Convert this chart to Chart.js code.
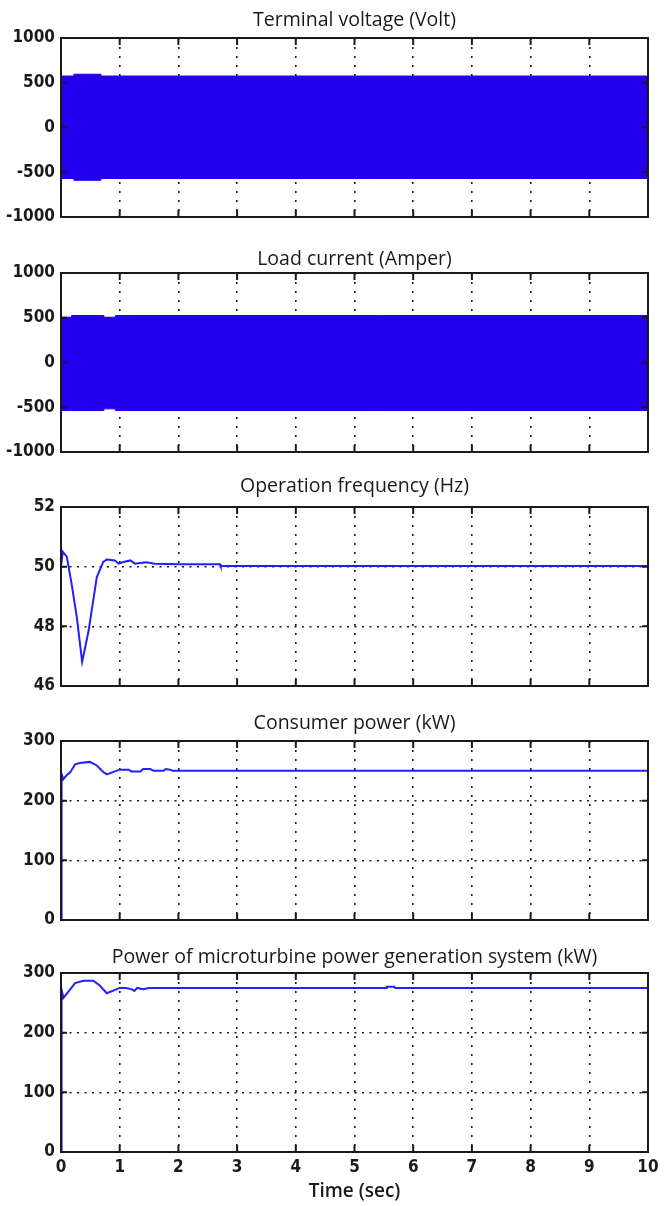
<!DOCTYPE html>
<html>
<head>
<meta charset="utf-8">
<script src="https://cdn.jsdelivr.net/npm/chart.js@4.4.0/dist/chart.umd.min.js"></script>
<style>
  body { margin: 0; background: #fff; }
  #wrap { position: relative; width: 672px; height: 1206px; overflow: hidden; }
  #wrap canvas { position: absolute; left: 0; }
</style>
</head>
<body>
<div id="wrap">
  <canvas id="c-volt"></canvas>
  <canvas id="c-curr"></canvas>
  <canvas id="c-freq"></canvas>
  <canvas id="c-load"></canvas>
  <canvas id="c-mt"></canvas>
</div>
<script>
// time axis (sec)
const timeTicks = [0, 1, 2, 3, 4, 5, 6, 7, 8, 9, 10];

// terminal voltage envelope (Volt), held until next time
const voltTime = [0, 0.22, 0.68, 10];
const voltUpper = [575, 595, 575, 575];
const voltLower = [-570, -590, -570, -570];
const voltTicks = [-1000, -500, 0, 500, 1000];

// load current envelope (Amper)
const currTime = [0, 0.18, 0.73, 0.93, 10];
const currUpper = [506, 525, 506, 525, 525];
const currLower = [-537, -537, -518, -537, -537];
const currTicks = [-1000, -500, 0, 500, 1000];

// operation frequency (Hz)
const freqTime = [0, 0.03, 0.1, 0.18, 0.27, 0.36, 0.47, 0.61, 0.72, 0.78, 0.92, 0.98, 1.05, 1.18, 1.26, 1.45, 1.6, 2.0, 2.4, 2.71, 2.72, 10];
const freqHz = [50.0, 50.5, 50.33, 49.43, 48.3, 46.81, 47.85, 49.65, 50.16, 50.24, 50.21, 50.1, 50.15, 50.21, 50.1, 50.15, 50.1, 50.08, 50.08, 50.08, 50.02, 50.02];
const freqTicks = [46, 48, 50, 52];

// consumer power (kW)
const loadTime = [0, 0.01, 0.04, 0.1, 0.16, 0.24, 0.32, 0.49, 0.61, 0.72, 0.78, 0.92, 1.0, 1.15, 1.2, 1.35, 1.4, 1.52, 1.58, 1.75, 1.78, 1.86, 1.9, 10];
const loadKw = [0, 245, 236, 243, 248, 261, 263, 265, 259, 248, 244, 249, 252, 252, 249, 249, 253, 253, 250, 250, 253, 252, 250, 250];
const powerTicks = [0, 100, 200, 300];

// microturbine generation power (kW)
const mtTime = [0, 0.01, 0.04, 0.12, 0.24, 0.38, 0.55, 0.66, 0.78, 0.9, 1.0, 1.1, 1.2, 1.25, 1.3, 1.4, 1.5, 2.0, 5.54, 5.55, 5.68, 5.69, 10];
const mtKw = [0, 272, 258, 268, 283, 287, 287, 279, 266, 271, 275, 275, 273, 270, 275, 273, 275, 275, 275, 277, 277, 275, 275];

const BLUE = '#1f1fff';
const BAND = 'rgb(34,0,238)';
const INK = '#1a1a1a';
const tickFont = { family: "'Liberation Sans Narrow', 'DejaVu Sans Condensed', 'Liberation Sans', sans-serif", size: 17, weight: 'condensed bold' };
const titleFont = { family: "'Open Sans', sans-serif", size: 19.5, weight: 'normal' };

const pts = (xs, ys) => xs.map((x, i) => ({ x, y: ys[i] }));

// plot box and inward tick marks, matlab style
const framePlugin = {
  id: 'frame',
  afterDraw(chart) {
    const { ctx, chartArea: a, scales: { x, y } } = chart;
    ctx.save();
    ctx.strokeStyle = INK;
    ctx.lineWidth = 2;
    ctx.beginPath();
    x.ticks.forEach(t => {
      const px = x.getPixelForValue(t.value);
      ctx.moveTo(px, a.bottom); ctx.lineTo(px, a.bottom - 7);
      ctx.moveTo(px, a.top); ctx.lineTo(px, a.top + 7);
    });
    y.ticks.forEach(t => {
      const py = y.getPixelForValue(t.value);
      ctx.moveTo(a.left, py); ctx.lineTo(a.left + 6, py);
      ctx.moveTo(a.right, py); ctx.lineTo(a.right - 6, py);
    });
    ctx.stroke();
    ctx.strokeRect(a.left, a.top, a.right - a.left, a.bottom - a.top);
    ctx.restore();
  }
};

function makePanel(id, p) {
  const canvas = document.getElementById(id);
  canvas.width = 672;
  canvas.height = p.height;
  canvas.style.top = p.top + 'px';
  const last = !!p.last;
  const lh = titleFont.size * 1.2;
  return new Chart(canvas, {
    type: 'line',
    data: { datasets: p.datasets },
    options: {
      responsive: false,
      animation: false,
      devicePixelRatio: 1,
      layout: { padding: { left: 0, right: 24, top: 0, bottom: 0 } },
      plugins: {
        legend: { display: false },
        tooltip: { enabled: false },
        title: {
          display: true,
          text: p.title,
          fullSize: false,
          color: INK,
          font: titleFont,
          padding: { top: p.titleTop, bottom: 38 - lh - p.titleTop }
        }
      },
      scales: {
        x: {
          type: 'linear',
          min: 0, max: 10,
          afterBuildTicks: s => { s.ticks = timeTicks.map(v => ({ value: v })); },
          afterFit: s => { s.height = last ? 54 : 18; },
          grid: { color: INK, lineWidth: 1.6, drawTicks: false },
          border: { display: true, color: INK, width: 2, dash: [2, 7] },
          ticks: { display: last, color: INK, font: tickFont, padding: 5, maxRotation: 0, callback: v => String(v) },
          title: {
            display: last,
            text: 'Time (sec)',
            color: INK,
            font: { family: "'Open Sans', sans-serif", size: 19, weight: '600' },
            padding: { top: 0, bottom: 3 }
          }
        },
        y: {
          min: p.ticks[0], max: p.ticks[p.ticks.length - 1],
          afterBuildTicks: s => { s.ticks = p.ticks.map(v => ({ value: v })); },
          afterFit: s => { s.width = 61; },
          grid: { color: INK, lineWidth: 1.6, drawTicks: false },
          border: { display: true, color: INK, width: 2, dash: [2, 5.5] },
          ticks: { color: INK, font: tickFont, padding: 6, callback: v => String(v) }
        }
      }
    },
    plugins: [framePlugin]
  });
}

// filled envelope between upper and lower edges
function band(xs, upper, lower) {
  const base = { stepped: true, borderColor: BAND, backgroundColor: BAND, borderWidth: 1, pointRadius: 0 };
  return [
    { ...base, data: pts(xs, upper), fill: '+1' },
    { ...base, data: pts(xs, lower), fill: false }
  ];
}

function trace(xs, ys) {
  return {
    data: pts(xs, ys),
    borderColor: BLUE,
    borderWidth: 2,
    pointRadius: 0,
    tension: 0,
    fill: false
  };
}

makePanel('c-volt', {
  top: 0, height: 235, titleTop: 8.9, title: 'Terminal voltage (Volt)', ticks: voltTicks,
  datasets: band(voltTime, voltUpper, voltLower)
});
makePanel('c-curr', {
  top: 235, height: 235, titleTop: 12.8, title: 'Load current (Amper)', ticks: currTicks,
  datasets: band(currTime, currUpper, currLower)
});
makePanel('c-freq', {
  top: 469, height: 235, titleTop: 5.5, title: 'Operation frequency (Hz)', ticks: freqTicks,
  datasets: [trace(freqTime, freqHz)]
});
makePanel('c-load', {
  top: 703, height: 235, titleTop: 9.1, title: 'Consumer power (kW)', ticks: powerTicks,
  datasets: [trace(loadTime, loadKw)]
});
makePanel('c-mt', {
  top: 935, height: 271, titleTop: 10.5, title: 'Power of microturbine power generation system (kW)', ticks: powerTicks,
  datasets: [trace(mtTime, mtKw)], last: true
});
</script>
</body>
</html>
